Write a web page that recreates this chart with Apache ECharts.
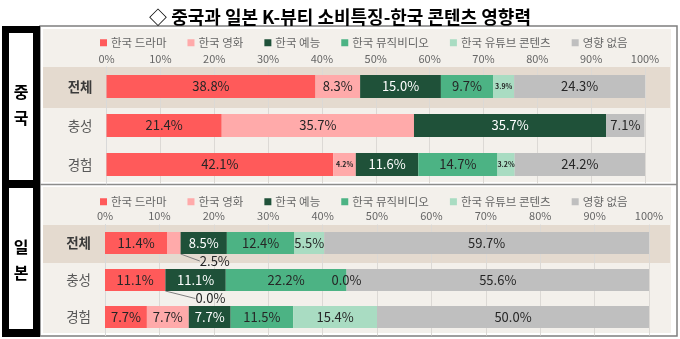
<!DOCTYPE html>
<html><head><meta charset="utf-8">
<script src="https://cdn.jsdelivr.net/npm/echarts@6/dist/echarts.min.js"></script>
<style>html,body{margin:0;padding:0;background:#fff}#c{width:680px;height:339px}</style>
</head><body><div id="c"></div>
<script>
const titleText = '◇ 중국과 일본 K-뷰티 소비특징-한국 콘텐츠 영향력';
const groupNames = ['중국', '일본'];
const categories = ['전체', '충성', '경험'];
const seriesNames = ['한국 드라마', '한국 영화', '한국 예능', '한국 뮤직비디오', '한국 유튜브 콘텐츠', '영향 없음'];
const tickLabels = ['0%', '10%', '20%', '30%', '40%', '50%', '60%', '70%', '80%', '90%', '100%'];

// 중국: values for [전체, 충성, 경험]
const chinaDrama   = [38.8, 21.4, 42.1];
const chinaMovie   = [8.3, 35.7, 4.2];
const chinaVariety = [15.0, 35.7, 11.6];
const chinaMV      = [9.7, 0, 14.7];
const chinaYouTube = [3.9, 0, 3.2];
const chinaNone    = [24.3, 7.1, 24.2];

// 일본: values for [전체, 충성, 경험]
const japanDrama   = [11.4, 11.1, 7.7];
const japanMovie   = [2.5, 0.0, 7.7];
const japanVariety = [8.5, 11.1, 7.7];
const japanMV      = [12.4, 22.2, 11.5];
const japanYouTube = [5.5, 0.0, 15.4];
const japanNone    = [59.7, 55.6, 50.0];

const chinaData = [chinaDrama, chinaMovie, chinaVariety, chinaMV, chinaYouTube, chinaNone];
const japanData = [japanDrama, japanMovie, japanVariety, japanMV, japanYouTube, japanNone];

const colors = ['#ff5a5a', '#ffaaaa', '#1f5139', '#4cb384', '#a9dcc2', '#bfbfbf'];
const FONT = '"Noto Sans CJK KR", "Noto Sans", sans-serif';

const chart = echarts.init(document.getElementById('c'), null, {renderer: 'canvas'});

const grids = [
  {left: 106.5, right: 35, top: 67, height: 117},
  {left: 105, right: 31, top: 224.5, height: 111}
];

function xAxis(i) {
  return {
    type: 'value', gridIndex: i, min: 0, max: 100, interval: 10, position: 'top',
    axisLine: {show: false}, axisTick: {show: false},
    axisLabel: {formatter: v => tickLabels[Math.round(v / 10)], color: '#666666', fontSize: 11, margin: 3, fontFamily: FONT},
    splitLine: {lineStyle: {color: '#dcd9d5', width: 1}}
  };
}
function yAxis(i) {
  return {
    type: 'category', gridIndex: i, data: categories, inverse: true,
    axisLine: {show: true, lineStyle: {color: '#d9d9d9'}}, axisTick: {show: false},
    axisLabel: {
      margin: 14, fontFamily: FONT,
      formatter: v => v === '전체' ? '{b|' + v + '}' : '{n|' + v + '}',
      rich: {
        b: {fontSize: 13.5, fontWeight: 'bold', color: '#3a3a3a', fontFamily: FONT},
        n: {fontSize: 13.5, color: '#595959', fontFamily: FONT}
      }
    }
  };
}

const series = [];
[chinaData, japanData].forEach((group, g) => {
  group.forEach((vals, i) => {
    const s = {
      name: seriesNames[i], type: 'bar', stack: 'g' + g,
      xAxisIndex: g, yAxisIndex: g, barWidth: g === 0 ? 23 : 22,
      itemStyle: {color: colors[i]},
      data: vals.map(v => {
        const item = {value: v};
        if (g === 0 && v > 0 && v < 5) item.label = {fontSize: 7, fontWeight: 'bold'};
        return item;
      }),
      label: {
        show: true, position: 'inside', fontFamily: FONT, fontSize: 13,
        color: i === 2 ? '#ffffff' : '#262626',
        formatter: p => (g === 0 && p.value === 0) ? '' : p.value.toFixed(1) + '%'
      },
      emphasis: {disabled: true},
      animation: false
    };
    if (g === 1 && i === 1) {
      s.labelLayout = function (params) {
        if (params.dataIndex === 0) return {dx: 41, dy: 18};
        if (params.dataIndex === 1) return {dx: 45, dy: 18.5};
        return {};
      };
      s.labelLine = {show: true, lineStyle: {color: '#7f7f7f', width: 1}};
    }
    series.push(s);
  });
});

function legend(top) {
  return {
    top: top, left: 95, data: seriesNames, icon: 'rect', itemWidth: 7, itemHeight: 7, itemGap: 21,
    selectedMode: false,
    textStyle: {color: '#666666', fontSize: 11.5, fontFamily: FONT, padding: [0, 0, 0, -1]}
  };
}

const graphic = [
  // panel backgrounds
  {type: 'rect', z: -20, shape: {x: 40, y: 26, width: 637, height: 310}, style: {fill: '#fff', stroke: '#7f7f7f', lineWidth: 1.5}},
  {type: 'rect', z: -19, shape: {x: 43, y: 29, width: 628, height: 153}, style: {fill: '#f3f0eb'}},
  {type: 'rect', z: -19, shape: {x: 43, y: 187, width: 628, height: 146}, style: {fill: '#f3f0eb'}},
  {type: 'line', z: -19, shape: {x1: 40, y1: 184.5, x2: 677, y2: 184.5}, style: {stroke: '#8c8c8c', lineWidth: 1.5}},
  // highlight bands for 전체
  {type: 'rect', z: -18, shape: {x: 43, y: 67, width: 627, height: 41}, style: {fill: '#e4dacf'}},
  {type: 'rect', z: -18, shape: {x: 43, y: 225, width: 627, height: 38}, style: {fill: '#e4dacf'}},
  // left black boxes
  {type: 'rect', z: 5, shape: {x: 2, y: 26, width: 38, height: 311}, style: {fill: '#000'}},
  {type: 'rect', z: 6, shape: {x: 9, y: 33, width: 24, height: 147}, style: {fill: '#fff'}},
  {type: 'rect', z: 6, shape: {x: 9, y: 188, width: 24, height: 141}, style: {fill: '#fff'}},
  {type: 'text', z: 7, x: 21, y: 105, style: {text: groupNames[0].split('').join('\n'), fill: '#000', font: 'bold 16px ' + FONT, lineHeight: 26, align: 'center', verticalAlign: 'middle'}},
  {type: 'text', z: 7, x: 21, y: 260, style: {text: groupNames[1].split('').join('\n'), fill: '#000', font: 'bold 16px ' + FONT, lineHeight: 26, align: 'center', verticalAlign: 'middle'}}
];

chart.setOption({
  animation: false,
  color: colors,
  title: {text: titleText, left: 'center', top: 3, textStyle: {fontSize: 18, fontWeight: 'bold', color: '#000', fontFamily: FONT}},
  legend: [legend(32), legend(191)],
  grid: grids,
  xAxis: [xAxis(0), xAxis(1)],
  yAxis: [yAxis(0), yAxis(1)],
  series: series,
  graphic: graphic
});
</script>
</body></html>
